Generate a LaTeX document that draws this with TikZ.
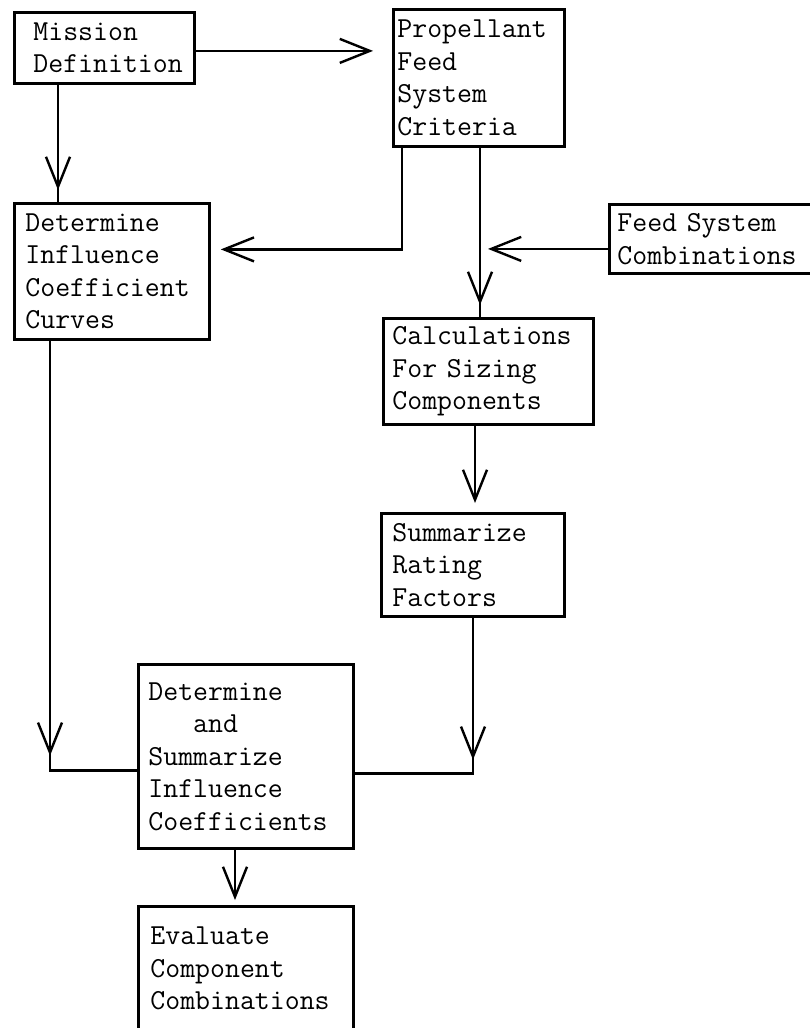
\documentclass[tikz,border=0pt]{standalone}
\usepackage{fontspec}
\usetikzlibrary{arrows.meta,decorations.markings}
\hfuzz=60pt
\tikzset{
  box/.style={draw, line width=2.8pt, anchor=north west, align=left, inner ysep=0pt,
    font=\ttfamily\fontsize{29}{32.5}\selectfont},
  conn/.style={line width=2.4pt},
  vee/.tip={Straight Barb[length=30pt,width=24pt]},
  tipat/.style={postaction={decorate,decoration={markings,
    mark=at position #1 with {\arrow{vee}}}}}
}
\begin{document}
\begin{tikzpicture}[x=1pt,y=1pt]
\fill[white] (0,0) rectangle (809,-1028);
\useasboundingbox (0,0) rectangle (809,-1028);

% blocks
\node[box, minimum height=71pt, text width=142pt, inner xsep=19pt] (mission) at (13,-11) {Mission\\Definition};
\node[box, minimum height=137pt, text width=163pt, inner xsep=4pt] (prop) at (392,-8) {Propellant\\Feed\\System\\Criteria};
\node[box, minimum height=69pt, text width=199pt, inner xsep=8pt] (fsc) at (608,-203) {Feed System\\Combinations};
\node[box, minimum height=136pt, text width=173pt, inner xsep=11pt] (curves) at (13,-202) {Determine\\Influence\\Coefficient\\Curves};
\node[box, minimum height=106pt, text width=192pt, inner xsep=9pt] (calc) at (382,-317) {Calculations\\For Sizing\\Components};
\node[box, minimum height=103pt, text width=161pt, inner xsep=11pt] (srf) at (380,-512) {Summarize\\Rating\\Factors};
\node[box, minimum height=184pt, text width=195pt, inner xsep=10pt] (det) at (137,-663) {Determine\\\phantom{Det}and\\Summarize\\Influence\\Coefficients};
\node[box, minimum height=124pt, text width=191pt, inner xsep=12pt] (eval) at (137,-905) {Evaluate\\Component\\Combinations};

% Mission -> Propellant criteria
\draw[conn, -vee, shorten >=19pt] ([yshift=-3pt]mission.east) -- ([yshift=-3pt]mission.east -| prop.west);

% Mission -> influence curves
\coordinate (mc) at ([xshift=45pt]mission.south west);
\draw[conn, tipat=-12pt] (mc) -- (mc |- curves.north);

% Propellant criteria -> influence curves
\coordinate (pl) at ([xshift=10pt]prop.south west);
\draw[conn, -vee, shorten >=10pt] (pl) |- ([yshift=22pt]curves.east);

% Propellant criteria -> sizing calculations
\coordinate (pc) at ([xshift=88pt]prop.south west);
\draw[conn, tipat=-12pt] (pc) -- (pc |- calc.north);

% Feed system combinations join the main line
\draw[conn, -vee, shorten >=8pt] ([yshift=-10pt]fsc.west) -- ([yshift=-10pt]fsc.west -| pc);

% Sizing calculations -> rating factors
\coordinate (cs) at ([xshift=95pt]srf.north west);
\draw[conn, -vee, shorten >=9pt] (cs |- calc.south) -- (cs);

% Rating factors -> summary of coefficients
\coordinate (sd) at ([xshift=93pt]srf.south west);
\draw[conn, tipat=142pt] (sd) |- ([yshift=-17pt]det.east);

% Influence curves -> summary of coefficients
\coordinate (cd) at ([xshift=37pt]curves.south west);
\draw[conn, tipat=415pt] (cd) |- ([yshift=-14pt]det.west);

% Summary -> evaluation
\coordinate (de) at ([xshift=98pt]det.south west);
\draw[conn, -vee, shorten >=5pt] (de) -- (de |- eval.north);
\end{tikzpicture}
\end{document}
